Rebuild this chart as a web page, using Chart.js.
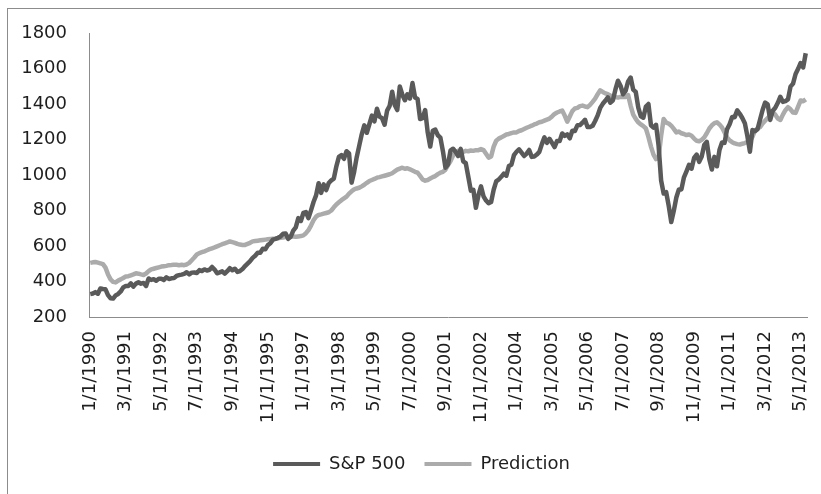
<!DOCTYPE html>
<html lang="en">
<head>
  <meta charset="UTF-8">
  <title>S&amp;P 500 vs Prediction</title>
  <script src="https://cdn.jsdelivr.net/npm/chart.js"></script>
  <style>
    html, body { margin: 0; padding: 0; background: #fff; overflow: hidden; }
    #frame {
      position: absolute; left: 7px; top: 8px;
      width: 840px; height: 510px;
      border: 1px solid #8c8c8c;
    }
  </style>
</head>
<body>
<div id="frame">
  <canvas id="grafico" width="840" height="510"></canvas>
</div>

<script>
  // monthly, first month = Jan 1990
  const firstYear = 1990;

  const tickLabels = ['1/1/1990', '3/1/1991', '5/1/1992', '7/1/1993', '9/1/1994', '11/1/1995',
    '1/1/1997', '3/1/1998', '5/1/1999', '7/1/2000', '9/1/2001', '11/1/2002', '1/1/2004',
    '3/1/2005', '5/1/2006', '7/1/2007', '9/1/2008', '11/1/2009', '1/1/2011', '3/1/2012', '5/1/2013'];

  const yTicks = [200, 400, 600, 800, 1000, 1200, 1400, 1600, 1800];

  const sp500 = [
    329, 332, 340, 331, 361, 358, 356, 323, 306, 304, 322, 330,          // 1990
    344, 367, 375, 375, 390, 371, 388, 395, 388, 392, 375, 417,          // 1991
    409, 413, 404, 415, 415, 408, 424, 414, 418, 419, 431, 436,          // 1992
    439, 443, 452, 440, 450, 451, 448, 464, 459, 468, 462, 466,          // 1993
    482, 467, 446, 451, 457, 444, 458, 475, 463, 472, 454, 459,          // 1994
    470, 487, 501, 515, 533, 545, 562, 562, 584, 582, 605, 616,          // 1995
    636, 640, 646, 654, 669, 671, 640, 652, 687, 705, 757, 741,          // 1996
    786, 791, 757, 801, 848, 885, 954, 899, 947, 915, 955, 970,          // 1997
    980, 1049, 1102, 1112, 1091, 1134, 1121, 957, 1017, 1099, 1164, 1229, // 1998
    1280, 1238, 1286, 1335, 1302, 1373, 1329, 1320, 1283, 1363, 1389, 1469, // 1999
    1394, 1366, 1499, 1452, 1421, 1455, 1431, 1518, 1437, 1429, 1315, 1320, // 2000
    1366, 1240, 1160, 1249, 1256, 1224, 1211, 1134, 1041, 1060, 1139, 1148, // 2001
    1130, 1107, 1147, 1077, 1067, 990, 912, 916, 815, 886, 936, 880,     // 2002
    856, 841, 848, 917, 964, 975, 990, 1008, 996, 1051, 1058, 1112,      // 2003
    1131, 1145, 1126, 1107, 1121, 1141, 1102, 1104, 1115, 1130, 1174, 1212, // 2004
    1181, 1204, 1181, 1157, 1192, 1191, 1234, 1220, 1229, 1207, 1249, 1248, // 2005
    1280, 1281, 1295, 1311, 1270, 1270, 1277, 1304, 1336, 1378, 1401, 1418, // 2006
    1438, 1407, 1421, 1482, 1531, 1503, 1455, 1474, 1527, 1549, 1481, 1468, // 2007
    1379, 1331, 1323, 1386, 1400, 1280, 1267, 1283, 1166, 969, 896, 903, // 2008
    826, 735, 798, 873, 919, 919, 987, 1021, 1057, 1036, 1096, 1115,     // 2009
    1074, 1104, 1169, 1187, 1089, 1031, 1102, 1049, 1141, 1183, 1181, 1258, // 2010
    1286, 1327, 1326, 1364, 1345, 1321, 1292, 1219, 1131, 1253, 1247, 1258, // 2011
    1312, 1366, 1408, 1398, 1310, 1362, 1379, 1407, 1441, 1412, 1416, 1426, // 2012
    1498, 1515, 1569, 1598, 1631, 1606, 1686                              // 2013
  ];

  const prediction = [
    505, 508, 510, 506, 502, 498, 478, 440, 412, 398, 395, 405,          // 1990
    412, 420, 428, 430, 435, 440, 446, 444, 440, 437, 445, 458,          // 1991
    468, 472, 476, 480, 484, 486, 488, 492, 493, 495, 494, 492,          // 1992
    494, 492, 496, 505, 520, 535, 552, 560, 565, 570, 576, 582,          // 1993
    587, 592, 598, 604, 610, 615, 620, 626, 622, 618, 612, 608,          // 1994
    606, 606, 612, 618, 626, 628, 630, 632, 634, 636, 638, 640,          // 1995
    641, 642, 644, 646, 648, 650, 652, 654, 653, 652, 654, 656,          // 1996
    660, 672, 690, 715, 745, 765, 775, 778, 782, 786, 790, 800,          // 1997
    818, 834, 846, 858, 868, 878, 895, 908, 919, 924, 928, 936,          // 1998
    945, 956, 966, 972, 978, 985, 988, 992, 996, 1000, 1004, 1010,       // 1999
    1020, 1030, 1036, 1041, 1035, 1038, 1032, 1025, 1018, 1013, 995, 975, // 2000
    968, 972, 980, 988, 994, 1005, 1013, 1018, 1030, 1055, 1079, 1110,   // 2001
    1130, 1136, 1127, 1130, 1136, 1134, 1138, 1136, 1140, 1140, 1146, 1140, // 2002
    1120, 1098, 1105, 1160, 1193, 1205, 1212, 1220, 1228, 1231, 1236, 1240, // 2003
    1240, 1248, 1252, 1259, 1266, 1272, 1278, 1285, 1290, 1297, 1300, 1306, // 2004
    1312, 1318, 1330, 1344, 1352, 1358, 1363, 1335, 1300, 1330, 1360, 1375, // 2005
    1378, 1388, 1391, 1386, 1382, 1395, 1412, 1430, 1455, 1477, 1468, 1460, // 2006
    1455, 1448, 1442, 1439, 1436, 1440, 1439, 1440, 1450, 1390, 1340, 1316, // 2007
    1297, 1285, 1275, 1262, 1215, 1160, 1115, 1090, 1098, 1220, 1316, 1295, // 2008
    1290, 1278, 1260, 1240, 1245, 1235, 1231, 1225, 1228, 1221, 1205, 1193, // 2009
    1190, 1198, 1212, 1235, 1262, 1280, 1292, 1297, 1285, 1268, 1240, 1212, // 2010
    1195, 1185, 1178, 1174, 1172, 1176, 1180, 1186, 1193, 1215, 1250, 1262, // 2011
    1270, 1290, 1306, 1320, 1336, 1354, 1340, 1318, 1310, 1340, 1365, 1382, // 2012
    1370, 1352, 1350, 1385, 1420, 1415, 1426                              // 2013
  ];

  const months = sp500.map((v, i) => `${i % 12 + 1}/1/${firstYear + Math.floor(i / 12)}`);

  const fuente = { family: 'DejaVu Sans', size: 18 };
  const colorTexto = '#1e1e1e';
  const colorEje = '#8c8c8c';

  // legend sits a little right of the canvas centre in the original
  const moverLeyenda = {
    id: 'moverLeyenda',
    afterLayout(chart) {
      chart.legend.left += 14;
      chart.legend.right += 14;
    }
  };

  new Chart(document.getElementById('grafico'), {
    type: 'line',
    data: {
      labels: months,
      datasets: [
        { label: 'S&P 500', data: sp500, borderColor: '#5a5a5a', backgroundColor: '#5a5a5a',
          borderWidth: 4.5, pointRadius: 0, tension: 0, borderJoinStyle: 'round' },
        { label: 'Prediction', data: prediction, borderColor: '#ababab', backgroundColor: '#ababab',
          borderWidth: 4.5, pointRadius: 0, tension: 0, borderJoinStyle: 'round' }
      ]
    },
    plugins: [moverLeyenda],
    options: {
      responsive: false,
      animation: false,
      devicePixelRatio: 1,
      layout: { padding: { left: 0, right: 41, top: 24, bottom: 36 } },
      plugins: {
        tooltip: { enabled: false },
        legend: {
          position: 'bottom',
          labels: {
            font: fuente,
            color: colorTexto,
            boxWidth: 47,
            boxHeight: 4,
            padding: 19,
            generateLabels: (chart) => Chart.defaults.plugins.legend.labels.generateLabels(chart)
              .map(l => Object.assign(l, { lineWidth: 0 }))
          }
        }
      },
      scales: {
        x: {
          offset: true,
          grid: { display: false, drawTicks: false },
          border: { display: true, color: colorEje, width: 1 },
          ticks: {
            autoSkip: false,
            minRotation: 90,
            maxRotation: 90,
            padding: 14,
            font: fuente,
            color: colorTexto,
            callback: function (val, i) {
              const l = months[i];
              return tickLabels.includes(l) ? l : '';
            }
          },
          afterFit: (s) => { s.height = 119; }
        },
        y: {
          min: yTicks[0],
          max: yTicks[yTicks.length - 1],
          grid: { display: false, drawTicks: true, tickLength: 22 },
          border: { display: true, color: colorEje, width: 1 },
          ticks: { stepSize: 200, padding: 0, font: fuente, color: colorTexto,
            callback: (v) => String(v) },
          afterFit: (s) => { s.width = 81; }
        }
      }
    }
  });
</script>
</body>
</html>
